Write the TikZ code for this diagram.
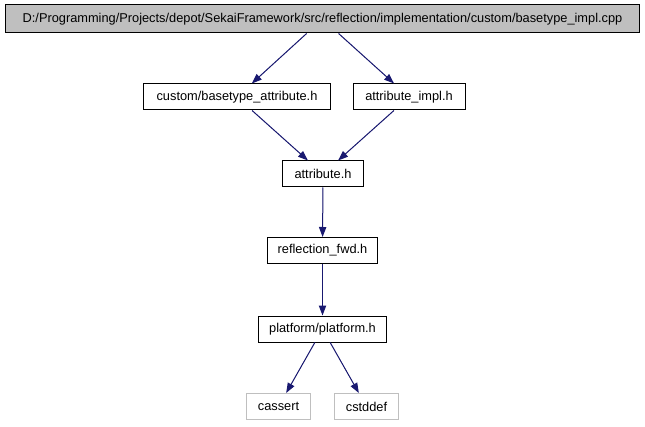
\documentclass[tikz,border=0pt]{standalone}
\usepackage{fontspec}
\setmainfont{Liberation Sans}
\usetikzlibrary{arrows.meta}
\definecolor{edgeblue}{HTML}{191970}
\definecolor{rootgrey}{HTML}{BFBFBF}
\begin{document}
\begin{tikzpicture}[x=0.75pt,y=-0.75pt,
  box/.style={draw=black,line width=0.75pt,inner sep=0pt,minimum height=19.5pt,font=\fontsize{9.6}{11}\selectfont},
  rootbox/.style={box,fill=rootgrey,minimum height=21pt},
  extbox/.style={box,draw=rootgrey},
  dep/.style={draw=edgeblue,line width=0.75pt,-{Triangle[length=7.5pt,width=5.5pt]},fill=edgeblue}]
  \useasboundingbox (0,0) rectangle (645,427);
  \node[rootbox,minimum width=476pt] (main) at (322.5,19) {D:/Programming/Projects/depot/SekaiFramework/src/reflection/implementation/custom/basetype\_impl.cpp};
  \node[box,minimum width=140pt] (basetypeattr) at (237,97) {custom/basetype\_attribute.h};
  \node[box,minimum width=84pt] (attrimpl) at (409,97) {attribute\_impl.h};
  \node[box,minimum width=60.5pt] (attribute) at (323,174) {attribute.h};
  \node[box,minimum width=83pt] (reflfwd) at (322.5,250.5) {reflection\_fwd.h};
  \node[box,minimum width=96.5pt] (platform) at (322.5,329) {platform/platform.h};
  \node[extbox,minimum width=47.5pt] (cassert) at (278.5,406.5) {cassert};
  \node[extbox,minimum width=47.5pt] (cstddef) at (366.5,406.5) {cstddef};
  \draw[dep] (main) -- (basetypeattr);
  \draw[dep] (main) -- (attrimpl);
  \draw[dep] (basetypeattr) -- (attribute);
  \draw[dep] (attrimpl) -- (attribute);
  \draw[dep] (attribute) -- (reflfwd);
  \draw[dep] (reflfwd) -- (platform);
  \draw[dep] (platform) -- (cassert);
  \draw[dep] (platform) -- (cstddef);
\end{tikzpicture}
\end{document}
